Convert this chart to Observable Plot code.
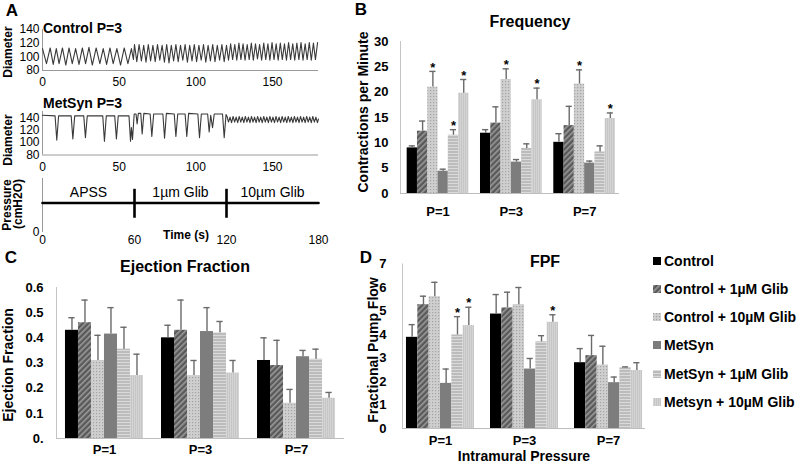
<!DOCTYPE html>
<html><head><meta charset="utf-8">
<script src="https://cdn.jsdelivr.net/npm/d3@7"></script>
<script src="https://cdn.jsdelivr.net/npm/@observablehq/plot@0.6"></script>
<style>
html,body{margin:0;padding:0;background:#fff;}
#root{position:relative;width:800px;height:467px;overflow:hidden;font-family:"Liberation Sans",Arial,Helvetica,sans-serif;color:#000;}
.panel{position:absolute;}
.panel svg{overflow:visible;background:transparent;max-width:none;}
</style></head><body>
<svg width="0" height="0" style="position:absolute">
<defs>
<pattern id="pHatch" width="4" height="4" patternUnits="userSpaceOnUse" patternTransform="rotate(45)">
<rect width="4" height="4" fill="#595959"/><rect width="1.6" height="4" fill="#9a9a9a"/></pattern>
<pattern id="pDots" width="3" height="3" patternUnits="userSpaceOnUse">
<rect width="3" height="3" fill="#cfcfcf"/><rect width="1.2" height="1.2" fill="#a4a4a4"/></pattern>
<pattern id="pLines" width="3" height="3" patternUnits="userSpaceOnUse">
<rect width="3" height="3" fill="#bcbcbc"/><rect width="3" height="1" fill="#dadada"/></pattern>
<pattern id="pLight" width="2" height="2" patternUnits="userSpaceOnUse">
<rect width="2" height="2" fill="#c6c6c6"/><rect width="1" height="2" fill="#d4d4d4"/></pattern>
</defs></svg>
<div id="root"></div>
<script>
// ---------- DATA ----------
// Panel A traces: [time (s), diameter (µm)]
const controlTrace = [[0,112],[2.6,90],[5,113],[7,89],[9,112],[10.8,90],[13,113],[15.2,88],[17.3,113],[19.4,90],[21.6,112],[23.8,89],[26,113],[28.1,90],[30.3,114],[32.5,88],[35,113],[37.4,90],[39.6,112],[41.8,89],[44,113],[46.1,90],[48.5,112],[50.9,88],[53.3,113],[55.7,90],[58,112],[59.3,96],
[60,118],[61.5,93],[63,118],[64.5,94],[66,117],[67.5,92],[69,118],[70.5,94],[72,117],[73.5,93],[75,118],[76.5,95],[78,117],[79.5,92],[81,118],[82.5,91],[84,117],[85.5,94],[87,118],[88.5,93],[90,117],[91.5,95],[93,118],[94.5,92],[96,117],[97.5,94],[99,118],[100.5,93],[102,117],[103.5,95],[105,118],[106.5,92],[108,117],[109.5,94],[111,118],[112.5,93],[114,117],[115.5,95],[117,118],[118.5,93],[120,117],
[121.3,95],[122.7,119],[124,96],[125.4,118],[126.7,95],[128.1,120],[129.4,96],[130.8,119],[132.1,95],[133.5,118],[134.8,96],[136.2,120],[137.5,95],[138.9,119],[140.2,97],[141.6,118],[142.9,95],[144.3,120],[145.6,96],[147,119],[148.3,95],[149.7,121],[151,96],[152.4,119],[153.7,95],[155.1,120],[156.4,96],[157.8,119],[159.1,95],[160.5,121],[161.8,96],[163.2,119],[164.5,95],[165.9,120],[167.2,96],[168.6,121],[169.9,95],[171.3,119],[172.6,96],[174,121],[175.3,95],[176.7,120],[178,96],[179.4,121]];

const metsynTrace = [[0,144],[8.2,143],[9.3,104],[10.5,143],[18.7,143],[19.8,106],[21,143],[26.9,143],[28,108],[29.2,143],[39.3,143],[40.4,102],[41.6,143],[47.1,143],[48.2,106],[49.4,143],[56.4,143],[57.4,102],[58,124],[58.7,105],[59.8,146],[61,146],[61.7,130],[62.5,147],[64.1,147],[65,114],[66.1,147],[70.2,146],[71.3,110],[72.5,146],[78.5,146],[79.6,107],[80.8,147],[85.9,146],[87,110],[88.2,146],[93,146],[94.1,110],[95.3,147],[101.3,146],[102.4,108],[103.6,146],[107.7,146],[108.7,117],[109.7,144],[110.9,124],[112,146],[117.4,146],[118.5,108],[119.7,145],[120.5,141],
[121.3,133],[122.3,141],[123.3,132],[124.3,142],[125.3,133],[126.3,141],[127.3,132],[128.3,142],[129.3,133],[130.3,141],[131.3,132],[132.3,142],[133.3,133],[134.3,141],[135.3,132],[136.3,142],[137.3,133],[138.3,141],[139.3,132],[140.3,142],[141.3,133],[142.3,141],[143.3,132],[144.3,142],[145.3,133],[146.3,141],[147.3,132],[148.3,142],[149.3,133],[150.3,141],[151.3,132],[152.3,142],[153.3,133],[154.3,141],[155.3,132],[156.3,142],[157.3,133],[158.3,141],[159.3,132],[160.3,142],[161.3,133],[162.3,141],[163.3,132],[164.3,142],[165.3,133],[166.3,141],[167.3,132],[168.3,142],[169.3,133],[170.3,141],[171.3,132],[172.3,142],[173.3,133],[174.3,141],[175.3,132],[176.3,142],[177.3,133],[178.3,141],[179.3,132],[180,138]];

const traceXTicks = [0, 50, 100, 150];
const diamTicks = [80, 100, 120, 140];
const pressureTime = [0, 180];
const pressureLevel = [3, 3];
const switchTimes = [60, 120];
const phaseNames = ["APSS", "1µm Glib", "10µm Glib"];
const phaseMid = [30, 90, 150];
const timeTicks = [0, 60, 120, 180];

// Bar panels
const groups = ["P=1", "P=3", "P=7"];
const seriesNames = ["Control", "Control + 1µM Glib", "Control + 10µM Glib", "MetSyn", "MetSyn + 1µM Glib", "Metsyn + 10µM Glib"];

const freqMean = [[9.0, 12.3, 21.0, 4.4, 11.5, 19.8], [11.9, 13.9, 22.5, 6.2, 8.9, 18.5], [10.1, 13.4, 21.6, 6.0, 8.2, 14.8]];
const freqSem  = [[0.4, 2.0, 3.1, 0.4, 1.1, 2.7], [0.7, 3.2, 2.1, 0.5, 0.9, 2.3], [1.7, 3.8, 2.8, 0.4, 1.2, 1.1]];
const freqStar = [[0, 0, 1, 0, 1, 1], [0, 0, 1, 0, 0, 1], [0, 0, 1, 0, 0, 1]];
const freqTicks = [0, 5, 10, 15, 20, 25, 30];

const efMean = [[0.43, 0.46, 0.31, 0.415, 0.355, 0.25], [0.40, 0.43, 0.25, 0.425, 0.42, 0.26], [0.31, 0.29, 0.14, 0.325, 0.315, 0.16]];
const efSem  = [[0.05, 0.09, 0.10, 0.105, 0.087, 0.085], [0.05, 0.12, 0.06, 0.095, 0.045, 0.05], [0.09, 0.10, 0.055, 0.025, 0.04, 0.023]];
const efStar = [[0, 0, 0, 0, 0, 0], [0, 0, 0, 0, 0, 0], [0, 0, 0, 0, 0, 0]];
const efTicks = [0, 0.1, 0.2, 0.3, 0.4, 0.5, 0.6];

const fpfMean = [[3.88, 5.27, 5.61, 1.92, 3.98, 4.38], [4.87, 5.13, 5.27, 2.53, 3.69, 4.52], [2.8, 3.1, 2.7, 1.95, 2.58, 2.47]];
const fpfSem  = [[0.54, 0.36, 0.61, 0.61, 0.78, 0.78], [0.83, 0.67, 0.73, 0.45, 0.26, 0.32], [0.6, 0.86, 0.8, 0.24, 0.04, 0.33]];
const fpfStar = [[0, 0, 0, 0, 1, 1], [0, 0, 0, 0, 0, 1], [0, 0, 0, 0, 0, 0]];
const fpfTicks = [0, 1, 2, 3, 4, 5, 6, 7];

const seriesFills = ["#000000", "url(#pHatch)", "url(#pDots)", "#7d7d7d", "url(#pLines)", "url(#pLight)"];

// ---------- HELPERS ----------
const FONT = '"Liberation Sans", Arial, Helvetica, sans-serif';
const root = document.getElementById("root");
function put(node, left, top, w) {
  const d = document.createElement("div");
  d.className = "panel";
  d.style.left = left + "px"; d.style.top = top + "px"; d.style.width = w + "px";
  d.appendChild(node); root.appendChild(d);
}
function txt(s, x, y, o = {}) {
  const size = o.size || 14, weight = o.weight || "bold", anchor = o.anchor || "middle";
  const d = document.createElement("div");
  d.textContent = s;
  d.style.cssText = `position:absolute;left:${x}px;top:${y}px;font-size:${size}px;font-weight:${weight};white-space:nowrap;line-height:1;transform:translate(${anchor === "start" ? "0" : "-50%"},-50%)${o.rotate ? " rotate(-90deg)" : ""};`;
  root.appendChild(d);
}

// ---------- PANEL A ----------
function tracePlot(trace, yDomain, mTop, frameH) {
  const data = trace.map(([t, d]) => ({t, d}));
  const h = mTop + frameH + 22;
  return [Plot.plot({
    width: 330, height: h,
    marginLeft: 42, marginRight: 12, marginTop: mTop, marginBottom: 22,
    style: {fontFamily: FONT, fontSize: "12px", background: "transparent", overflow: "visible"},
    x: {domain: [0, 180], ticks: traceXTicks, tickSize: 0, tickPadding: 7, label: null},
    y: {domain: yDomain, ticks: diamTicks, tickSize: 0, tickPadding: 3, label: null},
    marks: [
      Plot.ruleY([yDomain[0]], {stroke: "#9a9a9a"}),
      Plot.ruleX([0], {stroke: "#9a9a9a"}),
      Plot.line(data, {x: "t", y: "d", stroke: "#3a3a3a", strokeWidth: 1.1})
    ]
  }), h];
}
{
  const [c] = tracePlot(controlTrace, [80, 140], 9, 41);
  put(c, 0, 20, 330);
  const [m] = tracePlot(metsynTrace, [80, 150], 11, 43.5);
  put(m, 0, 100, 330);
  const pdata = pressureTime.map((t, i) => ({t, p: pressureLevel[i]}));
  const p = Plot.plot({
    width: 330, height: 82,
    marginLeft: 42, marginRight: 12, marginTop: 10, marginBottom: 18,
    style: {fontFamily: FONT, fontSize: "12px", background: "transparent", overflow: "visible"},
    x: {domain: [0, 180], ticks: timeTicks, tickSize: 0, tickPadding: 3, label: null},
    y: {domain: [0, 5.5], ticks: [0], tickFormat: d => String(d), tickSize: 0, tickPadding: 3, label: null},
    marks: [
      Plot.ruleX([0], {stroke: "#9a9a9a"}),
      Plot.line(pdata, {x: "t", y: "p", stroke: "#000", strokeWidth: 2.6}),
      Plot.ruleX(switchTimes, {y1: 1.45, y2: 4.4, stroke: "#000", strokeWidth: 2.6}),
      Plot.text(phaseNames, {x: (d, i) => phaseMid[i], y: 4.1, text: d => d, fontSize: 14})
    ]
  });
  put(p, 0, 168, 330);
}
txt("A", 12, 10, {size: 17});
txt("Control P=3", 43, 28, {size: 14, anchor: "start"});
txt("MetSyn P=3", 43, 103, {size: 14, anchor: "start"});
txt("Diameter", 8, 52, {size: 12, rotate: true});
txt("Diameter", 8, 140, {size: 12, rotate: true});
txt("Pressure", 7, 205, {size: 12, rotate: true});
txt("(cmH2O)", 18, 204, {size: 12, rotate: true});
txt("Time (s)", 186, 235, {size: 12});

// ---------- BAR PANELS ----------
function barPlot(o) {
  const step = 6 + o.gap;
  const rows = [];
  groups.forEach((g, gi) => seriesNames.forEach((s, si) => {
    rows.push({g, s, si, x1: gi * step + si, mean: o.means[gi][si], top: o.means[gi][si] + o.sems[gi][si], star: o.stars[gi][si]});
  }));
  const xDom = [-o.outerL, 2 * step + 6 + o.outerR];
  const cap = o.cap;
  return Plot.plot({
    width: o.mLeft + o.frameW + o.mRight, height: o.mTop + o.frameH + o.mBottom,
    marginLeft: o.mLeft, marginRight: o.mRight, marginTop: o.mTop, marginBottom: o.mBottom,
    style: {fontFamily: FONT, fontSize: "13px", fontWeight: "bold", background: "transparent", overflow: "visible"},
    color: {type: "identity"},
    x: {domain: xDom, ticks: groups.map((g, gi) => gi * step + 3), tickFormat: v => groups[Math.round((v - 3) / step)], tickSize: 0, tickPadding: o.xPad, label: null},
    y: {domain: o.yDomain, ticks: o.yTicks, tickFormat: o.yFmt, tickSize: 0, tickPadding: o.yPad, label: null},
    marks: [
      Plot.rect(rows, {x1: "x1", x2: d => d.x1 + 1, y1: d => 0, y2: "mean", fill: d => seriesFills[d.si]}),
      Plot.ruleX(rows, {x: d => d.x1 + 0.5, y1: "mean", y2: "top", stroke: "#6a6a6a", strokeWidth: 1.4}),
      Plot.ruleY(rows, {y: "top", x1: d => d.x1 + 0.5 - cap, x2: d => d.x1 + 0.5 + cap, stroke: "#6a6a6a", strokeWidth: 1.4}),
      Plot.text(rows.filter(d => d.star), {x: d => d.x1 + 0.5, y: "top", text: () => "*", dy: -4, fontSize: 13}),
      Plot.ruleY([0], {stroke: "#bdbdbd"}),
      Plot.ruleX([xDom[0]], {stroke: "#c4c4c4"})
    ]
  });
}

// B: Frequency
put(barPlot({means: freqMean, sems: freqSem, stars: freqStar, yDomain: [0, 30], yTicks: freqTicks, yFmt: d => String(d),
  gap: 1.13, outerL: 0.65, outerR: 0.39, cap: 0.3, frameW: 219, frameH: 152, mLeft: 60, mRight: 8, mTop: 11, mBottom: 32, xPad: 13, yPad: 12}), 340, 30, 287);
txt("B", 361, 9, {size: 17});
txt("Frequency", 530, 22, {size: 16});
txt("Contractions per Minute", 363, 112, {size: 14, rotate: true});

// C: Ejection Fraction
put(barPlot({means: efMean, sems: efSem, stars: efStar, yDomain: [0, 0.6], yTicks: efTicks, yFmt: d => d === 0 ? "0." : d.toFixed(1),
  gap: 1.385, outerL: 0.69, outerR: 0.69, cap: 0.24, frameW: 288, frameH: 151, mLeft: 56, mRight: 6, mTop: 15, mBottom: 26, xPad: 6, yPad: 13}), 0, 272, 350);
txt("C", 11, 257, {size: 17});
txt("Ejection Fraction", 185, 267, {size: 16});
txt("Ejection Fraction", 8, 365, {size: 14, rotate: true});

// D: FPF
put(barPlot({means: fpfMean, sems: fpfSem, stars: fpfStar, yDomain: [0, 7], yTicks: fpfTicks, yFmt: d => String(d),
  gap: 1.41, outerL: 0.35, outerR: 0.26, cap: 0.27, frameW: 243, frameH: 164.5, mLeft: 72, mRight: 5, mTop: 11.5, mBottom: 30, xPad: 7, yPad: 16}), 330, 252, 320);
txt("D", 366, 257, {size: 17});
txt("FPF", 545, 262, {size: 16});
txt("Fractional Pump Flow", 373, 350, {size: 14, rotate: true});
txt("Intramural Pressure", 524, 456, {size: 14});

// Legend
const legendY = [261, 289, 317, 345, 374, 402];
seriesNames.forEach((s, i) => {
  const ns = "http://www.w3.org/2000/svg";
  const sv = document.createElementNS(ns, "svg");
  sv.setAttribute("width", 8); sv.setAttribute("height", 8);
  sv.style.cssText = `position:absolute;left:653px;top:${legendY[i] - 4}px;`;
  const r = document.createElementNS(ns, "rect");
  r.setAttribute("width", 8); r.setAttribute("height", 8); r.setAttribute("fill", seriesFills[i]);
  sv.appendChild(r); root.appendChild(sv);
  txt(s, 664, legendY[i], {size: 14, anchor: "start"});
});
</script></body></html>
